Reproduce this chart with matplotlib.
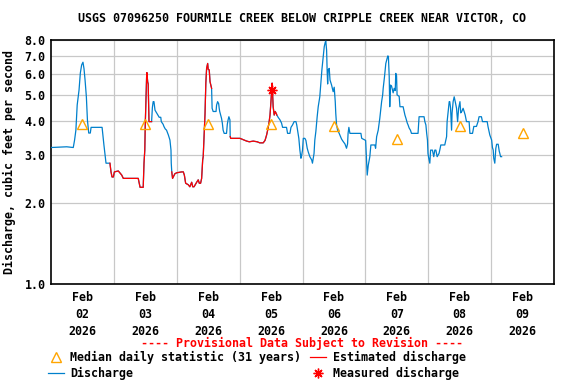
import matplotlib
matplotlib.use("Agg")
import matplotlib.pyplot as plt
from matplotlib.lines import Line2D
from matplotlib.ticker import FixedLocator, NullLocator
import numpy as np

# hours after Feb 02 2026 00:00 and discharge (cfs)
hours = [0.0, 6.0, 8.5, 9.0, 9.5, 10.0, 10.7, 11.2, 11.7, 12.2, 12.6, 13.0, 13.5, 13.9, 14.4, 15.0,
         15.3, 19.5, 20.2, 21.0, 22.5, 22.9, 23.3, 23.8, 24.2, 25.7, 27.0, 27.6, 33.3, 34.0, 35.2,
         35.5, 35.8, 36.0, 36.5, 36.6, 36.9, 37.1, 37.4, 38.4, 38.7, 39.0, 39.3, 39.7, 40.3, 40.9,
         41.3, 41.9, 42.1, 42.8, 43.1, 43.6, 44.1, 44.8, 45.4, 45.8, 45.9, 46.1, 46.4, 47.3, 48.0,
         49.9, 50.5, 50.9, 51.4, 52.4, 53.0, 53.7, 54.1, 54.6, 55.6, 56.2, 56.6, 57.1, 57.5, 57.9,
         58.1, 58.8, 59.1, 59.4, 59.8, 60.0, 60.4, 60.7, 61.0, 61.3, 61.5, 61.9, 63.0, 63.2, 63.6,
         64.0, 64.2, 64.4, 65.1, 65.4, 65.7, 66.1, 67.0, 67.3, 67.6, 67.9, 68.3, 68.4, 68.6, 72.1,
         72.8, 73.4, 74.7, 75.7, 77.2, 78.7, 79.7, 81.0, 81.7, 82.3, 82.7, 83.2, 83.6, 84.0, 84.2,
         84.4, 84.8, 85.2, 85.6, 86.1, 86.2, 86.7, 87.4, 88.0, 88.4, 89.9, 90.3, 91.2, 91.6, 92.2,
         92.8, 93.5, 93.8, 94.1, 94.6, 95.0, 95.4, 95.7, 96.0, 96.3, 96.9, 97.3, 97.8, 98.2, 98.8,
         99.5, 99.8, 100.4, 100.7, 101.1, 101.6, 102.0, 102.6, 103.0, 103.4, 103.9, 104.3, 104.7,
         104.9, 105.2, 105.4, 105.6, 105.8, 106.2, 106.5, 107.1, 107.7, 108.1, 108.5, 108.7, 109.0,
         109.4, 110.0, 110.5, 110.9, 111.5, 112.2, 112.8, 113.2, 113.4, 113.7, 114.1, 118.3, 118.6,
         120.1, 120.2, 120.5, 120.7, 121.1, 121.7, 122.1, 123.6, 123.9, 124.3, 124.9, 125.5, 126.2,
         126.6, 126.8, 127.3, 127.8, 128.3, 128.6, 128.8, 129.1, 129.3, 129.6, 130.0, 130.6, 131.0,
         131.4, 131.6, 131.9, 132.1, 132.9, 133.2, 134.4, 134.7, 135.1, 135.5, 136.0, 136.3, 136.7,
         137.2, 137.6, 140.1, 140.5, 142.4, 142.7, 143.1, 143.4, 143.7, 143.9, 144.2, 144.6, 144.9,
         145.6, 146.1, 146.5, 146.9, 147.4, 148.1, 148.4, 148.8, 150.3, 150.7, 151.0, 151.2, 151.6,
         152.0, 152.2, 152.5, 152.9, 153.1, 153.5, 153.9, 154.3, 154.8, 155.2, 155.6, 156.1, 156.4,
         156.8, 157.3, 157.7, 158.1, 158.6, 159.6, 159.9, 160.9, 161.4, 162.4, 163.0, 163.4, 164.3,
         164.7, 166.5, 166.8, 167.5, 168.2, 168.5, 168.8, 169.0, 169.4, 169.8, 170.1, 170.7, 171.1,
         171.3, 171.6, 172.0]
cfs = [3.20, 3.22, 3.20, 3.41, 3.71, 4.60, 5.22, 6.04, 6.47, 6.62, 6.26, 5.69, 4.93, 4.05, 3.62, 3.62,
       3.80, 3.80, 3.27, 2.80, 2.80, 2.60, 2.49, 2.49, 2.60, 2.62, 2.53, 2.46, 2.46, 2.28, 2.28,
       2.80, 3.13, 3.95, 5.85, 6.06, 5.60, 5.50, 3.99, 3.99, 4.50, 4.73, 4.73, 4.40, 4.30, 4.20,
       4.14, 4.14, 3.99, 3.90, 3.83, 3.75, 3.71, 3.56, 3.41, 3.13, 2.80, 2.60, 2.46, 2.56, 2.58,
       2.60, 2.60, 2.53, 2.36, 2.33, 2.29, 2.38, 2.29, 2.29, 2.38, 2.43, 2.36, 2.36, 2.46, 2.88,
       2.96, 4.28, 5.54, 6.28, 6.55, 6.23, 6.20, 5.61, 5.45, 5.30, 4.47, 4.35, 4.35, 4.59, 4.73,
       4.65, 4.47, 4.35, 4.10, 3.94, 3.71, 3.61, 3.61, 3.90, 4.05, 4.16, 4.05, 3.51, 3.46, 3.46,
       3.44, 3.42, 3.38, 3.36, 3.38, 3.36, 3.33, 3.33, 3.40, 3.56, 3.71, 3.94, 4.22, 4.79, 5.15,
       5.54, 4.53, 4.22, 4.35, 4.25, 4.22, 4.14, 4.05, 3.94, 3.80, 3.80, 3.61, 3.61, 3.80, 3.88,
       3.99, 3.99, 3.88, 3.71, 3.46, 3.13, 2.92, 3.00, 3.13, 3.46, 3.46, 3.40, 3.18, 3.08, 2.96,
       2.88, 2.80, 3.04, 3.41, 3.67, 4.16, 4.53, 4.93, 5.54, 6.20, 6.94, 7.56, 7.86,
       7.92, 7.34, 6.20, 5.50, 6.20, 6.28, 5.69, 5.45, 5.15, 5.35, 4.73, 4.28, 3.88,
       3.71, 3.61, 3.51, 3.44, 3.37, 3.30, 3.18, 3.30, 3.61, 3.80, 3.61, 3.61, 3.46,
       3.40, 3.23, 2.82, 2.53, 2.75, 2.96, 3.27, 3.27, 3.18, 3.51, 3.71, 4.10, 4.73,
       5.01, 5.30, 5.85, 6.55, 6.84, 6.99, 6.90, 5.85, 4.53, 5.45, 5.40, 5.10, 5.30,
       5.20, 6.02, 5.90, 5.01, 4.95, 4.53, 4.53, 4.40, 4.22, 4.10, 3.94, 3.88, 3.78,
       3.71, 3.61, 3.61, 4.16, 4.16, 3.99, 3.88, 3.61, 3.41, 3.04, 2.92, 2.80, 3.13,
       3.13, 2.96, 3.13, 3.13, 2.96, 3.04, 3.13, 3.27, 3.27, 3.41, 3.51, 3.99, 4.35,
       4.73, 4.73, 4.50, 3.71, 4.30, 4.73, 4.93, 4.73, 4.47, 3.99, 4.47, 4.73, 4.30,
       4.35, 4.47, 4.35, 4.22, 3.99, 3.99, 3.61, 3.61, 3.83, 3.83, 3.99, 4.16, 4.16,
       3.99, 3.99, 3.83, 3.56, 3.41, 3.20, 3.13, 2.92, 2.80, 3.18, 3.29, 3.29, 3.10,
       3.05, 2.96, 2.96]

# periods flagged as estimated (hours)
est_start = [22.5, 46.1, 68.4]
est_end = [38.4, 61.3, 86.2]

# median daily statistic, plotted at noon of each day
median_hours = [12, 36, 60, 84, 108, 132, 156, 180]
median_cfs = [3.90, 3.90, 3.90, 3.90, 3.83, 3.43, 3.83, 3.63]

measured_hours = [84.2]
measured_cfs = [5.21]

day_labels = ["Feb\n02\n2026", "Feb\n03\n2026", "Feb\n04\n2026", "Feb\n05\n2026",
              "Feb\n06\n2026", "Feb\n07\n2026", "Feb\n08\n2026", "Feb\n09\n2026"]
y_ticks = [1, 2, 3, 4, 5, 6, 7, 8]

BLUE = "#0080CC"
RED = "#FF0000"
ORANGE = "#FFA500"
FONT = "DejaVu Sans Mono"
FS = 8.4

plt.rcParams["font.family"] = FONT
plt.rcParams["font.weight"] = "bold"

fig = plt.figure(figsize=(5.76, 3.84), dpi=100)
ax = fig.add_axes([51 / 576, 1 - 284 / 384, 503 / 576, 244 / 384])

h = np.array(hours)
q = np.array(cfs)
ax.plot(h, q, color=BLUE, lw=0.9, zorder=3)
for s, e in zip(est_start, est_end):
    m = (h >= s) & (h <= e)
    ax.plot(h[m], q[m], color=RED, lw=0.9, zorder=4)

ax.plot(median_hours, median_cfs, ls="none", marker="^", ms=7, mfc="none",
        mec=ORANGE, mew=1.0, zorder=5)
ax.plot(measured_hours, measured_cfs, ls="none", marker=(8, 2, 0), ms=7,
        color=RED, mew=1.0, zorder=6)

ax.set_yscale("log")
ax.set_ylim(1, 8)
ax.set_xlim(0, 192)
ax.yaxis.set_major_locator(FixedLocator(y_ticks))
ax.yaxis.set_minor_locator(NullLocator())
ax.set_yticklabels(["%.1f" % v for v in y_ticks], fontsize=FS, fontweight="bold")

ax.xaxis.set_major_locator(FixedLocator(median_hours))
ax.xaxis.set_minor_locator(FixedLocator([24 * d for d in range(1, 8)]))
ax.set_xticklabels(day_labels, fontsize=FS, fontweight="bold", linespacing=1.4)
ax.tick_params(axis="both", which="both", length=0, pad=4)
ax.tick_params(axis="x", pad=5)

ax.grid(True, which="minor", axis="x", color="#C8C8C8", lw=0.9)
ax.grid(True, which="major", axis="y", color="#C8C8C8", lw=0.9)
ax.set_axisbelow(True)
for sp in ax.spines.values():
    sp.set_linewidth(1.2)
    sp.set_color("black")

ax.set_ylabel("Discharge, cubic feet per second", fontsize=FS, fontweight="bold", labelpad=6)

fig.text(302 / 576, 1 - 19 / 384,
         "USGS 07096250 FOURMILE CREEK BELOW CRIPPLE CREEK NEAR VICTOR, CO",
         ha="center", va="center", fontsize=FS, fontweight="bold")
fig.text(302 / 576, 1 - 343 / 384, "---- Provisional Data Subject to Revision ----",
         ha="center", va="center", fontsize=FS, fontweight="bold", color=RED)

# legend drawn by hand in figure pixels
def fx(px):
    return px / 576

def fy(py):
    return 1 - py / 384

fig.add_artist(Line2D([fx(56)], [fy(357)], marker="^", ms=7, mfc="none", mec=ORANGE,
                      mew=1.0, ls="none"))
fig.text(fx(70), fy(357), "Median daily statistic (31 years)", va="center",
         fontsize=FS, fontweight="bold")
fig.add_artist(Line2D([fx(310), fx(326)], [fy(357), fy(357)], color=RED, lw=0.9))
fig.text(fx(333), fy(357), "Estimated discharge", va="center", fontsize=FS, fontweight="bold")
fig.add_artist(Line2D([fx(48), fx(64)], [fy(373), fy(373)], color=BLUE, lw=0.9))
fig.text(fx(70), fy(373), "Discharge", va="center", fontsize=FS, fontweight="bold")
fig.add_artist(Line2D([fx(318)], [fy(373)], marker=(8, 2, 0), ms=7, color=RED, mew=1.0,
                      ls="none"))
fig.text(fx(333), fy(373), "Measured discharge", va="center", fontsize=FS, fontweight="bold")

fig.savefig("out.png", dpi=100)
